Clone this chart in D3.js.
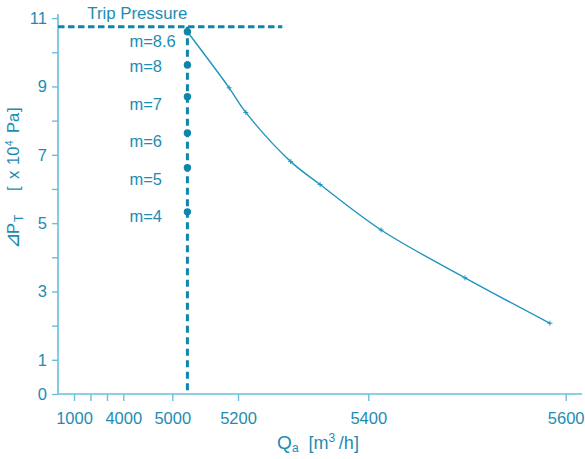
<!DOCTYPE html>
<html>
<head>
<meta charset="utf-8">
<script src="https://cdn.jsdelivr.net/npm/d3@7"></script>
<style>
  html, body { margin: 0; padding: 0; background: #ffffff; }
  svg { display: block; font-family: "Liberation Sans", Arial, Helvetica, sans-serif; }
</style>
</head>
<body>
<svg id="chart" width="585" height="459"></svg>
<script>
// ---------- data ----------
const xTickValues = [1000, 2000, 3000, 4000, 5000, 5200, 5400, 5600];
const xTickLabels = ["1000", "", "", "4000", "5000", "5200", "5400", "5600"];
const yTickValues = [0, 1, 2, 3, 4, 5, 6, 7, 8, 9, 10, 11];
const yTickLabels = ["0", "1", "", "3", "", "5", "", "7", "", "9", "", "11"];

const curveQa = [5046, 5173, 5212, 5281, 5326, 5413, 5498, 5584];
const curveDp = [10.60, 8.96, 8.24, 6.80, 6.13, 4.80, 3.40, 2.07];

const stageQa = 5046;
const stageLabels = ["m=8.6", "m=8", "m=7", "m=6", "m=5", "m=4"];
const stageDp = [10.60, 9.63, 8.70, 7.64, 6.62, 5.33];
const stageLabelDp = [10.16, 9.43, 8.32, 7.22, 6.12, 5.02];

const tripLevel = 10.75;
const tripEndQa = 5268;
const tripLabel = "Trip Pressure";

// ---------- styles ----------
const textColor = "#1d8cb2";
const axisColor = "#6bbfd9";
const markColor = "#0e86ab";
const lineColor = "#1e95bf";

const svg = d3.select("#chart");
const W = 585, H = 459;
const margin = { left: 58, bottom: 65, top: 18, right: 3 };
const axisY = H - margin.bottom; // 394

// piecewise axis (non-uniform in the original)
const x = d3.scaleLinear()
  .domain(xTickValues)
  .range([74, 90.5, 107, 123.3, 172.3, 238, 368.3, 565.7]);

const y = d3.scaleLinear()
  .domain([0, 11])
  .range([axisY, 18.1]);

// ---------- axes ----------
svg.append("line")
  .attr("x1", margin.left).attr("x2", W - margin.right)
  .attr("y1", axisY).attr("y2", axisY)
  .attr("stroke", axisColor).attr("stroke-width", 1.6);
svg.append("line")
  .attr("x1", margin.left).attr("x2", margin.left)
  .attr("y1", axisY).attr("y2", y(11.12))
  .attr("stroke", axisColor).attr("stroke-width", 1.6);

const xAxis = svg.append("g")
  .attr("transform", `translate(0,${axisY})`)
  .call(d3.axisBottom(x)
    .tickValues(xTickValues)
    .tickSize(7)
    .tickPadding(11)
    .tickFormat((d, i) => xTickLabels[i]));
xAxis.select(".domain").remove();
xAxis.selectAll(".tick line").attr("stroke", axisColor).attr("stroke-width", 1.4);
xAxis.selectAll(".tick text")
  .attr("fill", textColor).attr("font-size", 16.5).attr("font-family", "Liberation Sans, Arial, sans-serif");

const yAxis = svg.append("g")
  .attr("transform", `translate(${margin.left},0)`)
  .call(d3.axisLeft(y)
    .tickValues(yTickValues)
    .tickSize(6)
    .tickPadding(5)
    .tickFormat((d, i) => yTickLabels[i]));
yAxis.select(".domain").remove();
yAxis.selectAll(".tick line").attr("stroke", axisColor).attr("stroke-width", 1.4);
yAxis.selectAll(".tick text")
  .attr("fill", textColor).attr("font-size", 16.5).attr("font-family", "Liberation Sans, Arial, sans-serif");

// ---------- axis titles ----------
const xTitle = svg.append("text")
  .attr("x", 318).attr("y", 449)
  .attr("text-anchor", "middle")
  .attr("fill", textColor).attr("font-size", 18);
xTitle.append("tspan").attr("font-size", 19).text("Q");
xTitle.append("tspan").attr("font-size", 12).attr("dy", 3).text("a");
xTitle.append("tspan").attr("dy", -3).text("\u00a0 [m");
xTitle.append("tspan").attr("font-size", 12).attr("dy", -7).text("3");
xTitle.append("tspan").attr("dy", 7).text("\u2009/h]");

const yTitle = svg.append("text")
  .attr("transform", `translate(19,249) rotate(-90)`)
  .attr("text-anchor", "start")
  .attr("fill", textColor).attr("font-size", 16.5);
yTitle.append("tspan").attr("x", 0).attr("font-family", "DejaVu Sans").attr("font-size", 20).attr("font-weight", 300).text("\u22BF");
yTitle.append("tspan").attr("x", 15).text("P");
yTitle.append("tspan").attr("x", 27).attr("font-size", 12).attr("dy", 4).text("T");
yTitle.append("tspan").attr("x", 58).attr("dy", -4).text("[");
yTitle.append("tspan").attr("x", 70).text("x");
yTitle.append("tspan").attr("x", 84).text("10");
yTitle.append("tspan").attr("x", 103).attr("font-size", 10).attr("dy", -6).text("4");
yTitle.append("tspan").attr("x", 116).attr("dy", 6).text("Pa");
yTitle.append("tspan").attr("x", 137).text("]");

// ---------- trip pressure & stage line ----------
svg.append("line")
  .attr("x1", margin.left).attr("x2", x(tripEndQa))
  .attr("y1", y(tripLevel)).attr("y2", y(tripLevel))
  .attr("stroke", markColor).attr("stroke-width", 3)
  .attr("stroke-dasharray", "6.5,3.5");

svg.append("line")
  .attr("x1", x(stageQa)).attr("x2", x(stageQa))
  .attr("y1", y(tripLevel)).attr("y2", axisY)
  .attr("stroke", markColor).attr("stroke-width", 3)
  .attr("stroke-dasharray", "7,4.5");

svg.append("text")
  .attr("x", x(stageQa)).attr("y", y(tripLevel) - 7.5)
  .attr("text-anchor", "end")
  .attr("fill", textColor).attr("font-size", 16.8)
  .text(tripLabel);

// ---------- curve ----------
const pts = curveQa.map((q, i) => [x(q), y(curveDp[i])]);
svg.append("path")
  .attr("d", d3.line().curve(d3.curveCatmullRom.alpha(0.5))(pts))
  .attr("fill", "none").attr("stroke", lineColor).attr("stroke-width", 1.4);

svg.selectAll(".plus")
  .data(pts.slice(1))
  .enter().append("path")
  .attr("class", "plus")
  .attr("d", d => `M${d[0]-2.5},${d[1]}H${d[0]+2.5}M${d[0]},${d[1]-2.5}V${d[1]+2.5}`)
  .attr("stroke", lineColor).attr("stroke-width", 1);

// ---------- stage dots ----------
svg.selectAll(".dot")
  .data(stageDp)
  .enter().append("circle")
  .attr("class", "dot")
  .attr("cx", x(stageQa)).attr("cy", d => y(d))
  .attr("r", 3.7)
  .attr("fill", markColor);

svg.selectAll(".mlab")
  .data(stageLabels)
  .enter().append("text")
  .attr("class", "mlab")
  .attr("x", x(stageQa) - 58)
  .attr("y", (d, i) => y(stageLabelDp[i]))
  .attr("fill", textColor).attr("font-size", 16.5)
  .text(d => d);
</script>
</body>
</html>
